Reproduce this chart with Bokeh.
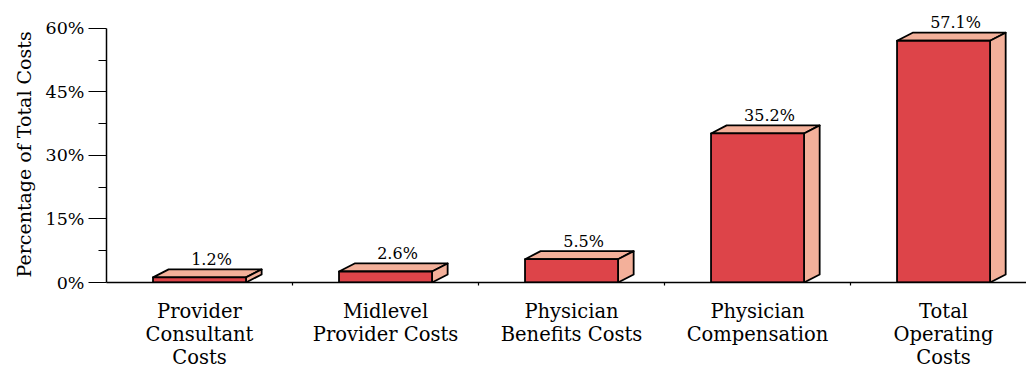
from bokeh.plotting import figure
from bokeh.models import Range1d, FixedTicker, PrintfTickFormatter, ColumnDataSource, Title
from bokeh.core.properties import value
from bokeh.embed import file_html
from bokeh.resources import INLINE

categories = ["Provider\nConsultant\nCosts", "Midlevel\nProvider Costs", "Physician\nBenefits Costs",
              "Physician\nCompensation", "Total\nOperating\nCosts"]
values = [1.2, 2.6, 5.5, 35.2, 57.1]
value_labels = ["1.2%", "2.6%", "5.5%", "35.2%", "57.1%"]
y_ticks = [0, 15, 30, 45, 60]
y_minor = [7.5, 22.5, 37.5, 52.5]
y_title = "Percentage of Total Costs"

FONT = "DejaVu Serif"
FRONT = "#dd4449"
SIDE = "#f3b09a"
half = 0.25
dx = 0.084
dy = 1.9

xs = list(range(len(values)))

p = figure(width=1026, height=371, output_backend="svg", toolbar_location=None,
           x_range=Range1d(-0.5, 4.446), y_range=Range1d(0, 66.6),
           min_border_left=106, min_border_right=0, min_border_top=0, min_border_bottom=89)
p.outline_line_color = None
p.xgrid.visible = False
p.ygrid.visible = False
p.background_fill_color = "white"
p.border_fill_color = "white"

top_xs, top_ys, side_xs, side_ys = [], [], [], []
for x, v in zip(xs, values):
    top_xs.append([x - half, x + half, x + half + dx, x - half + dx])
    top_ys.append([v, v, v + dy, v + dy])
    side_xs.append([x + half, x + half + dx, x + half + dx, x + half])
    side_ys.append([0, dy, v + dy, v])

p.patches(top_xs, top_ys, fill_color=SIDE, line_color="black", line_width=1.8, line_join="round")
p.patches(side_xs, side_ys, fill_color=SIDE, line_color="black", line_width=1.8, line_join="round")
p.quad(left=[x - half for x in xs], right=[x + half for x in xs], bottom=0, top=values,
       fill_color=FRONT, line_color="black", line_width=1.8, line_join="round")

src = ColumnDataSource(dict(x=xs, y=[v + dy for v in values], t=value_labels))
p.text(x="x", y="y", text="t", source=src, x_offset=12, y_offset=-10,
       text_font=value(FONT), text_font_size="16px", text_align="center",
       text_baseline="alphabetic", text_color="black")

# x axis
xa = p.xaxis[0]
xa.ticker = FixedTicker(ticks=xs, minor_ticks=[x + 0.5 for x in xs])
xa.major_label_overrides = {i: c for i, c in enumerate(categories)}
xa.major_tick_out = 0
xa.major_tick_in = 0
xa.minor_tick_out = 3
xa.minor_tick_in = 0
xa.axis_line_width = 1.5
xa.minor_tick_line_width = 1.2
xa.major_label_standoff = 14
xa.major_label_text_font = FONT
xa.major_label_text_font_size = "19.5px"
xa.major_label_text_color = "black"
xa.major_label_text_line_height = 1.01

# y axis
ya = p.yaxis[0]
ya.ticker = FixedTicker(ticks=y_ticks, minor_ticks=y_minor)
ya.formatter = PrintfTickFormatter(format="%d%%")
ya.bounds = (0, 60)
ya.major_tick_out = 18
ya.major_tick_in = 0
ya.minor_tick_out = 8
ya.minor_tick_in = 0
ya.axis_line_width = 1.5
ya.major_tick_line_width = 1.2
ya.minor_tick_line_width = 1.2
ya.major_label_standoff = 4
ya.major_label_text_font = FONT
ya.major_label_text_font_size = "17.5px"
ya.major_label_text_color = "black"

# y-axis title, starting near the bottom so it is centred on the 0..60 axis line
p.add_layout(Title(text=y_title, align="left", offset=5, standoff=15,
                   text_font=FONT, text_font_size="19px", text_font_style="normal",
                   text_color="black"), "left")

open("out.html", "w").write(file_html(p, INLINE))
